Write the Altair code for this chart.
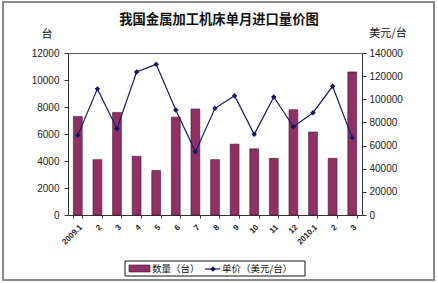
import altair as alt
import pandas as pd

months = ["2009.1", "2", "3", "4", "5", "6", "7", "8", "9", "10", "11", "12", "2010.1", "2 ", "3 "]
quantity = [7300, 4100, 7600, 4350, 3300, 7250, 7850, 4100, 5250, 4900, 4200, 7800, 6150, 4200, 10600]
price = [69000, 109000, 74600, 123600, 130200, 90700, 54700, 92200, 103100, 69700, 102000, 76300, 88400, 111200, 66800]

title_text = "我国金属加工机床单月进口量价图"
left_unit = "台"
right_unit = "美元/台"
legend_bar = "数量（台）"
legend_line = "单价（美元/台）"

df = pd.DataFrame({"month": months, "quantity": quantity, "price": price})

CJK = "Noto Sans CJK SC"
LAT = "Liberation Sans"
W, H = 294, 162

xenc = alt.X("month:N", sort=months,
             scale=alt.Scale(paddingInner=0.55, paddingOuter=0.275),
             axis=alt.Axis(title=None, labelAngle=-45, labelAlign="right", labelBaseline="top",
                           labelFont=LAT, labelFontSize=8, labelFontWeight="bold", labelColor="#222",
                           tickBand="extent", tickSize=3, tickColor="#333", domainColor="#333",
                           labelPadding=5))

bars = alt.Chart(df).mark_bar(color="#8f3263", stroke="#4a1030", strokeWidth=0.6).encode(
    x=xenc,
    y=alt.Y("quantity:Q", scale=alt.Scale(domain=[0, 12000], nice=False),
            axis=alt.Axis(title=None, values=list(range(0, 12001, 2000)), grid=False, format="d",
                          labelFont=LAT, labelFontSize=10, labelColor="#222",
                          tickSize=4, tickColor="#333", domainColor="#333", labelPadding=5)),
)

line = alt.Chart(df).mark_line(color="#1a1a6e", strokeWidth=1.2).encode(
    x=alt.X("month:N", sort=months),
    y=alt.Y("price:Q", scale=alt.Scale(domain=[0, 140000], nice=False),
            axis=alt.Axis(title=None, orient="right", values=list(range(0, 140001, 20000)), grid=False,
                          format="d", labelFont=LAT, labelFontSize=10, labelColor="#222",
                          tickSize=4, tickColor="#333", domainColor="#333", labelPadding=3)),
)
pts = alt.Chart(df).mark_point(shape="diamond", filled=True, color="#141466", size=30, opacity=1).encode(
    x=alt.X("month:N", sort=months),
    y=alt.Y("price:Q", scale=alt.Scale(domain=[0, 140000], nice=False), axis=None),
)

one = pd.DataFrame({"k": [0]})

def txt(s, x, y, font=CJK, size=11, weight="normal", align="center"):
    return alt.Chart(one).mark_text(text=s, font=font, fontSize=size, fontWeight=weight,
                                    align=align, baseline="middle", color="#111").encode(
        x=alt.value(x), y=alt.value(y))

frame = alt.Chart(one).mark_rect(fill=None, stroke="#8a8a8a", strokeWidth=2).encode(
    x=alt.value(-65), x2=alt.value(366), y=alt.value(-51), y2=alt.value(227))

title = txt(title_text, 151, -33, size=13.3, weight="bold")
lunit = txt(left_unit, -21, -18, size=11)
runit = txt(right_unit, 320, -19, size=11)

lbox = alt.Chart(one).mark_rect(fill="white", stroke="#111", strokeWidth=1).encode(
    x=alt.value(57), x2=alt.value(237), y=alt.value(208), y2=alt.value(223))
lsw = alt.Chart(one).mark_rect(fill="#8f3263", stroke="#4a1030", strokeWidth=0.6).encode(
    x=alt.value(61), x2=alt.value(82), y=alt.value(212), y2=alt.value(219))
ltxt1 = txt(legend_bar, 84, 216, size=9.5, align="left")
lline = alt.Chart(one).mark_rule(color="#1a1a6e", strokeWidth=1.2).encode(
    x=alt.value(137), x2=alt.value(152), y=alt.value(216))
lpt = alt.Chart(one).mark_point(shape="diamond", filled=True, color="#141466", size=30, opacity=1).encode(
    x=alt.value(145), y=alt.value(216))
ltxt2 = txt(legend_line, 154, 216, size=9.5, align="left")

chart = alt.layer(
    bars, line, pts, frame, title, lunit, runit, lbox, lsw, ltxt1, lline, lpt, ltxt2
).resolve_scale(y="independent").properties(
    width=W, height=H,
    padding={"left": 68, "top": 53, "right": 76, "bottom": 68},
    autosize=alt.AutoSizeParams(type="none"),
    background="white",
).configure_view(stroke="#555", strokeWidth=1)

chart.save("out.html", embed_options={"renderer": "svg", "actions": False})
